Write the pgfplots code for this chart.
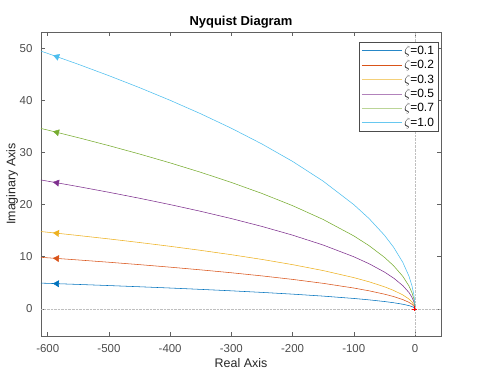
\documentclass[border=0pt]{standalone}
\usepackage{pgfplots}
\pgfplotsset{compat=1.18}
\usepackage{pgfplotstable}
\usepackage{fontspec}
\setmainfont{Liberation Sans}
\definecolor{c1}{rgb}{0,0.447,0.741}
\definecolor{c2}{rgb}{0.850,0.325,0.098}
\definecolor{c3}{rgb}{0.929,0.694,0.125}
\definecolor{c4}{rgb}{0.494,0.184,0.556}
\definecolor{c5}{rgb}{0.466,0.674,0.188}
\definecolor{c6}{rgb}{0.301,0.745,0.933}
\definecolor{axgray}{rgb}{0.38,0.38,0.38}
\pgfplotstableread{
x z1 z2 z3 z5 z7 z10
0 0 0 0 0 0 0
-0.5 0.1414 0.2828 0.4243 0.7071 0.9899 1.4142
-2 0.2828 0.5657 0.8485 1.4142 1.9799 2.8284
-5 0.4472 0.8944 1.3416 2.2361 3.1305 4.4721
-10 0.6325 1.2649 1.8974 3.1623 4.4272 6.3246
-20 0.8944 1.7889 2.6833 4.4721 6.2610 8.9443
-35 1.1832 2.3664 3.5497 5.9161 8.2825 11.8322
-50 1.4142 2.8284 4.2426 7.0711 9.8995 14.1421
-75 1.7321 3.4641 5.1962 8.6603 12.1244 17.3205
-100 2.0000 4.0000 6.0000 10.0000 14.0000 20.0000
-150 2.4495 4.8990 7.3485 12.2474 17.1464 24.4949
-200 2.8284 5.6569 8.4853 14.1421 19.7990 28.2843
-250 3.1623 6.3246 9.4868 15.8114 22.1360 31.6228
-300 3.4641 6.9282 10.3923 17.3205 24.2487 34.6410
-350 3.7417 7.4833 11.2250 18.7083 26.1916 37.4166
-400 4.0000 8.0000 12.0000 20.0000 28.0000 40.0000
-450 4.2426 8.4853 12.7279 21.2132 29.6985 42.4264
-500 4.4721 8.9443 13.4164 22.3607 31.3050 44.7214
-550 4.6904 9.3808 14.0712 23.4521 32.8329 46.9042
-600 4.8990 9.7980 14.6969 24.4949 34.2929 48.9898
-620 4.9800 9.9600 14.9399 24.8998 34.8597 49.7996
}\nyq
\begin{document}
\begin{tikzpicture}
\useasboundingbox (-41bp,-39bp) rectangle (437bp,336bp);
\begin{axis}[
  at={(0,0)}, anchor=south west,
  scale only axis, width=400bp, height=304bp,
  xmin=-611, xmax=42.5, ymin=-5.2, ymax=53.1,
  xtick={-600,-500,...,0}, ytick={0,10,...,50},
  tick align=inside, major tick length=4bp,
  axis line style={axgray, line width=0.5pt},
  tick style={axgray, line width=0.5pt},
  tick label style={font=\fontsize{11.5}{13}\selectfont, text=black!70},
  xticklabel style={yshift=-5bp},
  yticklabel style={xshift=-5bp},
  /pgf/number format/assume math mode=true,
  scaled ticks=false,
  title={\textbf{Nyquist Diagram}},
  title style={font=\fontsize{13}{15}\selectfont, yshift=-6bp},
  xlabel={Real Axis}, ylabel={Imaginary Axis},
  label style={font=\fontsize{12.5}{14}\selectfont, text=black!85},
  xlabel style={yshift=1bp},
  ylabel style={yshift=-5bp},
  legend style={at={(0.993,0.967)}, anchor=north east, draw=black!70, line width=0.6pt,
    font=\fontsize{12}{14}\selectfont, row sep=0.6bp, inner xsep=2bp, inner ysep=1.5bp,
    cells={anchor=west}},
  legend image code/.code={\draw[#1] (0bp,0bp) -- (40bp,0bp);},
]
\addlegendimage{draw=c1!85!white, line width=1pt}
\addlegendentry{$\zeta$=0.1}
\addlegendimage{draw=c2, line width=1pt}
\addlegendentry{$\zeta$=0.2}
\addlegendimage{draw=c3!60!white, line width=1pt}
\addlegendentry{$\zeta$=0.3}
\addlegendimage{draw=c4!60!white, line width=1pt}
\addlegendentry{$\zeta$=0.5}
\addlegendimage{draw=c5!50!white, line width=1pt}
\addlegendentry{$\zeta$=0.7}
\addlegendimage{draw=c6!85!white, line width=1pt}
\addlegendentry{$\zeta$=1.0}
\addplot[forget plot, densely dotted, black!25, line width=0.4pt] coordinates {(0,-5.2) (0,53.1)};
\addplot[forget plot, densely dotted, black!25, line width=0.4pt] coordinates {(-611,0) (42.5,0)};
\addplot[forget plot, draw=c1, line width=0.55pt, no marks] table[x=x, y=z1] {\nyq};
\addplot[forget plot, draw=c2, line width=0.55pt, no marks] table[x=x, y=z2] {\nyq};
\addplot[forget plot, draw=c3, line width=0.55pt, no marks] table[x=x, y=z3] {\nyq};
\addplot[forget plot, draw=c4, line width=0.55pt, no marks] table[x=x, y=z5] {\nyq};
\addplot[forget plot, draw=c5, line width=0.55pt, no marks] table[x=x, y=z7] {\nyq};
\addplot[forget plot, draw=c6, line width=0.55pt, no marks] table[x=x, y=z10] {\nyq};
\addplot[forget plot, only marks, mark=triangle*, mark size=3.6bp, c1, mark options={rotate=88}] coordinates {(-585,4.837)};
\addplot[forget plot, only marks, mark=triangle*, mark size=3.6bp, c2, mark options={rotate=86}] coordinates {(-585,9.675)};
\addplot[forget plot, only marks, mark=triangle*, mark size=3.6bp, c3, mark options={rotate=84}] coordinates {(-585,14.51)};
\addplot[forget plot, only marks, mark=triangle*, mark size=3.6bp, c4, mark options={rotate=80}] coordinates {(-585,24.19)};
\addplot[forget plot, only marks, mark=triangle*, mark size=3.6bp, c5, mark options={rotate=76}] coordinates {(-585,33.86)};
\addplot[forget plot, only marks, mark=triangle*, mark size=3.6bp, c6, mark options={rotate=71}] coordinates {(-585,48.37)};
\addplot[forget plot, only marks, mark=+, mark size=2.5bp, red, line width=0.5pt] coordinates {(-1,0)};
\end{axis}
\end{tikzpicture}
\end{document}
